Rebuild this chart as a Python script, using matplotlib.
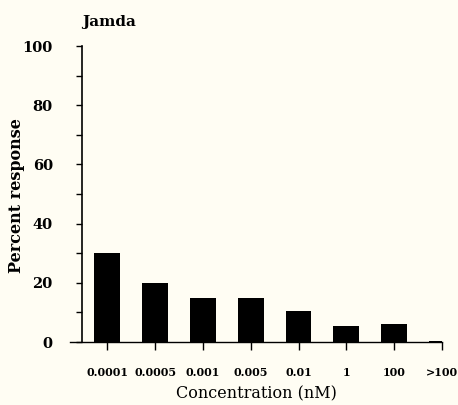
import matplotlib
matplotlib.use("Agg")
import matplotlib.pyplot as plt
from matplotlib.ticker import MultipleLocator

categories = ["0.0001", "0.0005", "0.001", "0.005", "0.01", "1", "100", ">100"]
percent_response = [30, 20, 15, 15, 10.5, 5.5, 6, 0.4]

bg = "#fffdf3"
fig = plt.figure(figsize=(4.58, 4.05), dpi=100, facecolor=bg)
ax = fig.add_axes([70/458, (405-342)/405, 372/458, 296/405], facecolor=bg)

x = list(range(len(categories)))
ax.bar(x, percent_response, width=0.54, color="black", zorder=3)

ax.set_xlim(-0.78, 6.95)
ax.set_ylim(0, 100)

ax.spines["top"].set_visible(False)
ax.spines["right"].set_visible(False)
ax.spines["left"].set_position(("data", -0.53))
ax.spines["left"].set_linewidth(1.2)
ax.spines["bottom"].set_linewidth(1.0)

ax.set_xticks(x)
ax.set_xticklabels(categories, fontfamily="DejaVu Serif", fontweight="bold", fontsize=8)
ax.tick_params(axis="x", direction="out", length=6, width=1.0, pad=12)

ax.yaxis.set_major_locator(MultipleLocator(20))
ax.yaxis.set_minor_locator(MultipleLocator(10))
ax.tick_params(axis="y", which="both", direction="out", length=4, width=1.0, pad=17)
for lab in ax.get_yticklabels():
    lab.set_fontfamily("DejaVu Serif")
    lab.set_fontweight("bold")
    lab.set_fontsize(10.5)

ax.set_xlabel("Concentration (nM)", fontfamily="DejaVu Serif", fontsize=11.5, labelpad=5)
fig.text(17/458, 1 - 196/405, "Percent response", rotation=90, ha="center", va="center",
         fontfamily="DejaVu Serif", fontweight="bold", fontsize=11.5)
fig.text(82/458, 1 - 22/405, "Jamda", ha="left", va="center",
         fontfamily="DejaVu Serif", fontweight="bold", fontsize=11)

fig.savefig("out.png", dpi=100, facecolor=bg)
